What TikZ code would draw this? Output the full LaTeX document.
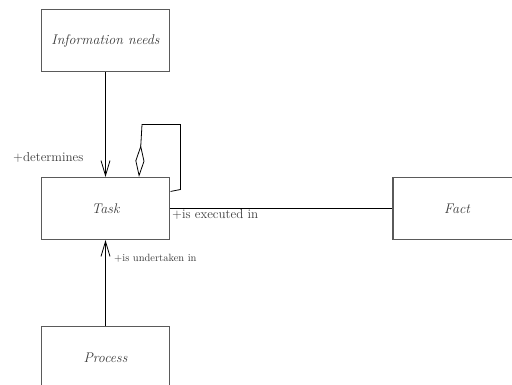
\documentclass[tikz,border=0pt]{standalone}
\usepackage{fontspec}
\usetikzlibrary{arrows.meta,calc}
\definecolor{boxline}{HTML}{5A5A5A}
\definecolor{txt}{HTML}{3A3A3A}
\tikzset{
  classbox/.style={draw=boxline, line width=1.1pt, minimum width=128pt, minimum height=62pt,
    inner sep=0pt, font=\fontsize{14}{16}\selectfont\itshape, text=txt},
  assoc/.style={draw=black, line width=0.8pt},
  navarrow/.style={assoc, -{Straight Barb[length=15pt,width=9pt,line width=0.8pt]}},
  rolelabel/.style={font=\fontsize{13}{15}\selectfont, text=txt, inner sep=0pt},
  smalllabel/.style={font=\fontsize{10.5}{12}\selectfont, text=txt, inner sep=0pt}
}
\begin{document}
\begin{tikzpicture}[x=1pt, y=-1pt]
\useasboundingbox (0,0) rectangle (512,385);
\clip (0,0) rectangle (512,385);

% classes
\node[classbox] (info) at (105.5,40.7) {Information needs};
\node[classbox] (task) at (105.5,208.5) {Task};
\node[classbox] (fact) at (457,208.5) {Fact};
\node[classbox] (proc) at (105.5,357.5) {Process};

% associations
\draw[navarrow] (info.south) -- (task.north);
\draw[navarrow] (proc.north) -- (task.south);
\draw[assoc] (task.east) -- (fact.west);

% aggregation of Task with itself
\coordinate (loopstart) at ($(task.north east)+(0.5,14.5)$);
\coordinate (loopend) at ($(task.north)+(33.5,0)$);
\draw[assoc, -{Diamond[open,length=32pt,width=9pt,line width=0.8pt]}]
  (loopstart) -- (180.5,189.5) -- (180.5,124.5) -- (142,124.5) -- (loopend);

% role names
\node[rolelabel, anchor=south west] (lbldet) at (13,163) {+determines};
\node[rolelabel, anchor=north west] (lblexe) at (172,209.5) {+is executed in};
\node[smalllabel, anchor=west] (lblund) at (114,258.5) {+is undertaken in};
\end{tikzpicture}
\end{document}
